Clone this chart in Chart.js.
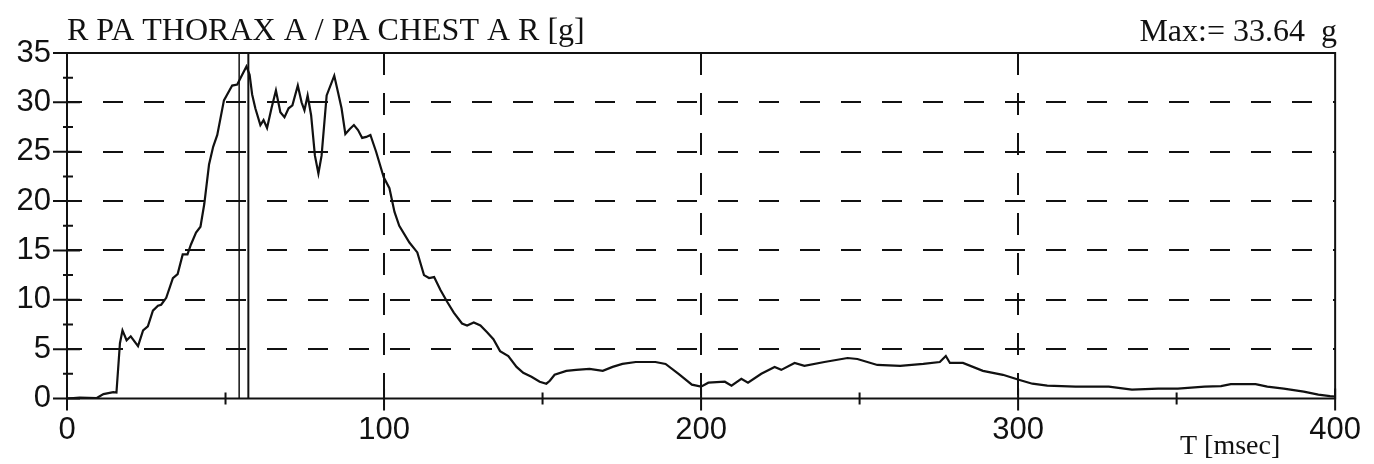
<!DOCTYPE html>
<html>
<head>
<meta charset="utf-8">
<script src="https://cdn.jsdelivr.net/npm/chart.js@4.4.1/dist/chart.umd.min.js"></script>
<style>
  html, body { margin: 0; padding: 0; background: #fff; }
  #wrap { width: 1374px; height: 464px; }
</style>
</head>
<body>
<div id="wrap"><canvas id="thorax-chart" width="1374" height="464"></canvas></div>
<script>
// values (time in ms, acceleration in g)
const timeMs = [0, 4, 9.4, 11.5, 14.6, 15.6, 16.7, 17.5, 18.8, 20.1, 22.4, 24.0, 25.5, 27.1, 28.7, 29.7, 31.3, 33.4, 34.9,
  36.5, 38.0, 39.1, 40.7, 42.1, 43.3, 44.8, 46.1, 47.4, 49.5, 52.1, 53.7, 55.1, 56.6, 57.6, 58.4, 59.4, 61.0, 62.0, 63.1,
  64.5, 65.9, 67.3, 68.6, 69.9, 71.1, 72.8, 74.0, 74.9, 75.9, 77.0, 78.2, 79.3, 80.3, 81.9, 84.3, 85.5, 86.6, 87.8, 89.2,
  90.5, 91.8, 93.1, 94.4, 95.7, 97.5, 99.9, 101.7, 103.3, 104.8, 108.0, 110.5, 112.6, 114.2, 115.8, 117.8, 119.9, 122.0,
  124.6, 126.2, 128.3, 130.4, 132.5, 134.5, 136.6, 139.2, 141.8, 143.9, 146.5, 149.1, 151.2, 152.3, 153.8, 157.5, 160.6,
  164.8, 169.0, 172.1, 175.2, 179.4, 185.6, 188.8, 192.9, 197.1, 200.0, 202.3, 207.5, 209.6, 212.7, 214.8, 219.0, 223.2,
  225.3, 229.5, 232.6, 238.9, 246.2, 249.3, 255.6, 262.8, 270.1, 275.3, 277.2, 278.5, 282.6, 288.9, 295.2, 300.2, 304.5,
  309.2, 318.1, 323.4, 328.6, 335.9, 344.2, 350.4, 358.8, 364.0, 367.1, 371.3, 374.9, 378.6, 383.8, 390.1, 394.7, 398.4, 400];
const accelG = [0, 0.1, 0.05, 0.45, 0.65, 0.6, 5.6, 6.9, 5.9, 6.3, 5.3, 6.9, 7.3, 8.9, 9.4, 9.5, 10.2, 12.2, 12.6,
  14.6, 14.6, 15.6, 16.8, 17.4, 19.7, 23.7, 25.5, 26.7, 30.2, 31.7, 31.8, 32.7, 33.64, 32.8, 30.8, 29.4, 27.7, 28.2, 27.4,
  29.4, 31.2, 29.0, 28.5, 29.4, 29.7, 31.7, 30.0, 29.2, 30.7, 28.7, 24.6, 22.8, 24.6, 30.7, 32.7, 31.0, 29.4, 26.8, 27.3,
  27.7, 27.2, 26.4, 26.5, 26.7, 25.0, 22.4, 21.3, 18.9, 17.5, 15.8, 14.8, 12.5, 12.2, 12.3, 11.0, 9.8, 8.7,
  7.6, 7.4, 7.7, 7.4, 6.7, 6.0, 4.8, 4.3, 3.2, 2.6, 2.2, 1.7, 1.5, 1.8, 2.4, 2.8, 2.9,
  3.0, 2.8, 3.2, 3.5, 3.7, 3.7, 3.5, 2.5, 1.4, 1.2, 1.6, 1.7, 1.3, 2.0, 1.6, 2.5, 3.2,
  2.9, 3.6, 3.3, 3.7, 4.1, 4.0, 3.4, 3.3, 3.5, 3.7, 4.3, 3.6, 3.6, 2.8, 2.4, 1.9, 1.5,
  1.3, 1.2, 1.2, 1.2, 0.9, 1.0, 1.0, 1.2, 1.25, 1.45, 1.45, 1.45, 1.2, 1.0, 0.7, 0.4, 0.25, 0.2];

// the two cursor lines near the peak
const cursorMs = [54.3, 57.2];
const cursorSpanG = [0, 35];

const xTicks = [0, 100, 200, 300, 400];
const yTicks = [0, 5, 10, 15, 20, 25, 30, 35];

const titleText = 'R PA THORAX A / PA CHEST A R [g]';
const maxText = 'Max:= 33.64  g';
const xUnitText = 'T [msec]';

const INK = '#111';
const SERIF = '"Liberation Serif", "Times New Roman", serif';
const SANS = '"Liberation Sans", Arial, sans-serif';

// frame, tick marks and the text labels around the plot
const decorPlugin = {
  id: 'decor',
  afterDraw(chart) {
    const { ctx, chartArea: a, scales } = chart;
    const xs = scales.x, ys = scales.y;
    ctx.save();
    ctx.strokeStyle = INK;
    ctx.lineWidth = 2;
    ctx.setLineDash([]);
    ctx.strokeRect(a.left, a.top, a.right - a.left, a.bottom - a.top);

    ctx.beginPath();
    for (let v = 0; v <= 35; v += 2.5) {
      const y = ys.getPixelForValue(v);
      const major = v % 5 === 0;
      ctx.moveTo(a.left - (major ? 14 : 4), y);
      ctx.lineTo(a.left + (major ? 13 : 6), y);
    }
    for (let t = 0; t <= 400; t += 50) {
      const x = xs.getPixelForValue(t);
      const major = t % 100 === 0;
      ctx.moveTo(x, a.bottom - (major ? 10 : 6));
      ctx.lineTo(x, a.bottom + (major ? 12 : 6));
    }
    ctx.stroke();

    ctx.fillStyle = INK;
    ctx.textBaseline = 'alphabetic';
    ctx.font = '32px ' + SERIF;
    ctx.textAlign = 'left';
    ctx.fillText(titleText, 67, 40);
    ctx.textAlign = 'right';
    ctx.fillText(maxText, 1337, 41);
    ctx.font = '28px ' + SERIF;
    ctx.textAlign = 'left';
    ctx.fillText(xUnitText, 1180, 454);
    ctx.restore();
  }
};

const curve = timeMs.map((t, i) => ({ x: t, y: accelG[i] }));
const cursorSets = cursorMs.map((c, i) => ({
  data: cursorSpanG.map(g => ({ x: c, y: g })),
  borderColor: INK,
  borderWidth: i === 0 ? 1.5 : 2,
  pointRadius: 0,
  tension: 0,
}));

new Chart(document.getElementById('thorax-chart'), {
  type: 'line',
  data: {
    datasets: [
      { data: curve, borderColor: INK, borderWidth: 2.2, pointRadius: 0, tension: 0 },
      ...cursorSets,
    ],
  },
  options: {
    responsive: false,
    animation: false,
    events: [],
    layout: { padding: { left: 0, right: 29, top: 53, bottom: 0 } },
    plugins: { legend: { display: false }, title: { display: false }, tooltip: { enabled: false } },
    scales: {
      x: {
        type: 'linear', min: 0, max: 400,
        afterBuildTicks: s => { s.ticks = xTicks.map(v => ({ value: v })); },
        afterFit: s => { s.height = 65.5; },
        ticks: { color: INK, padding: 13, maxRotation: 0, font: { family: SANS, size: 31 } },
        grid: {
          drawTicks: false,
          lineWidth: 2,
          color: c => (c.tick && (c.tick.value === 0 || c.tick.value === 400)) ? 'transparent' : INK,
        },
        border: { display: false, dash: [22, 18], dashOffset: 0 },
      },
      y: {
        min: 0, max: 35,
        afterBuildTicks: s => { s.ticks = yTicks.map(v => ({ value: v })); },
        afterFit: s => { s.width = 67; },
        ticks: { color: INK, padding: 16, font: { family: SANS, size: 31 } },
        grid: {
          drawTicks: false,
          lineWidth: 2,
          color: c => (c.tick && (c.tick.value === 0 || c.tick.value === 35)) ? 'transparent' : INK,
        },
        border: { display: false, dash: [20, 21], dashOffset: 5 },
      },
    },
  },
  plugins: [decorPlugin],
});
</script>
</body>
</html>
